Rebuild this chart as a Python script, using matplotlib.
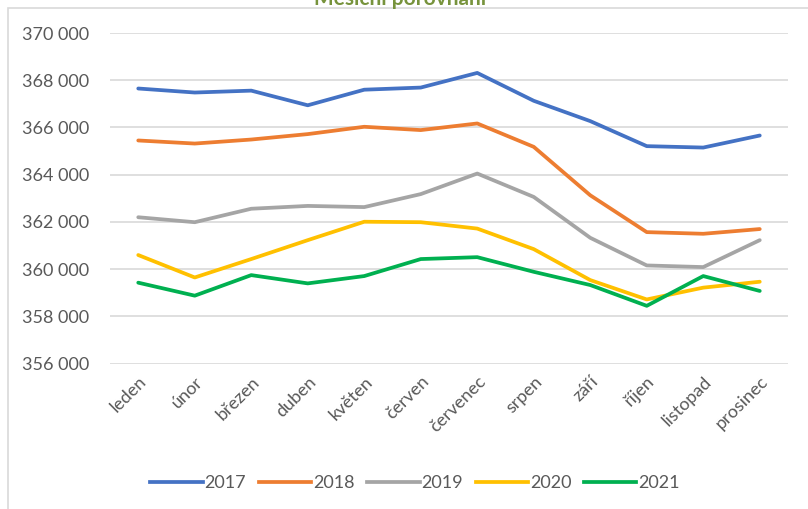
import matplotlib.pyplot as plt
from matplotlib.lines import Line2D
from matplotlib.patches import Rectangle
from matplotlib.ticker import FuncFormatter

months = ["leden", "únor", "březen", "duben", "květen", "červen",
          "červenec", "srpen", "září", "říjen", "listopad", "prosinec"]
years = ["2017", "2018", "2019", "2020", "2021"]
v2017 = [367650, 367480, 367560, 366940, 367600, 367690,
         368310, 367130, 366270, 365210, 365150, 365660]
v2018 = [365450, 365320, 365490, 365720, 366030, 365890,
         366170, 365180, 363130, 361570, 361500, 361700]
v2019 = [362200, 361990, 362560, 362680, 362630, 363180,
         364050, 363060, 361330, 360160, 360090, 361230]
v2020 = [360600, 359650, 360430, 361230, 362010, 361990,
         361720, 360850, 359540, 358720, 359220, 359470]
v2021 = [359430, 358880, 359750, 359400, 359710, 360430,
         360510, 359890, 359330, 358450, 359710, 359080]
series = [v2017, v2018, v2019, v2020, v2021]
colors = ["#4472C4", "#ED7D31", "#A5A5A5", "#FFC000", "#00B050"]

plt.rcParams["font.family"] = ["Lato", "DejaVu Sans"]

fig = plt.figure(figsize=(8.08, 5.09), dpi=100)
ax = fig.add_axes([110 / 808, 1 - 363.7 / 509, 678 / 808, (363.7 - 33) / 509])

x = range(len(months))
for label, values, color in zip(years, series, colors):
    ax.plot(x, values, color=color, lw=2.7, label=label, solid_capstyle="round")

ax.set_xlim(-0.5, len(months) - 0.5)
ax.set_ylim(356000, 370000)
ax.set_yticks(range(356000, 370001, 2000))
ax.yaxis.set_major_formatter(FuncFormatter(lambda v, _: f"{int(v):,}".replace(",", " ")))
ax.set_xticks(list(x))
ax.set_xticklabels(months, rotation=45, ha="right", va="top", rotation_mode="anchor")
ax.tick_params(axis="both", length=0, labelsize=13, labelcolor="#595959")
ax.tick_params(axis="y", pad=15)
ax.tick_params(axis="x", pad=7)
ax.grid(axis="y", color="#D9D9D9", lw=1.2)
ax.set_axisbelow(True)
for spine in ax.spines.values():
    spine.set_visible(False)

# chart frame and clipped title
fig.patches.append(Rectangle((8 / 808, -0.01), 1.0, 1 - 8 / 509 + 0.01,
                             transform=fig.transFigure, fill=False,
                             edgecolor="#D9D9D9", lw=1.2))
fig.text(400 / 808, 1 - 5 / 509, "Měsíční porovnání", ha="center", va="baseline",
         fontsize=15, fontweight="bold", color="#77933C")

handles = [Line2D([], [], color=c, lw=2.7) for c in colors]
fig.legend(handles, years, loc="center", bbox_to_anchor=(415 / 808, 1 - 483 / 509),
           ncol=5, frameon=False, fontsize=13, handlelength=2.9, columnspacing=0.7,
           handletextpad=0.1, labelcolor="#595959")

fig.savefig("out.png", dpi=100)
